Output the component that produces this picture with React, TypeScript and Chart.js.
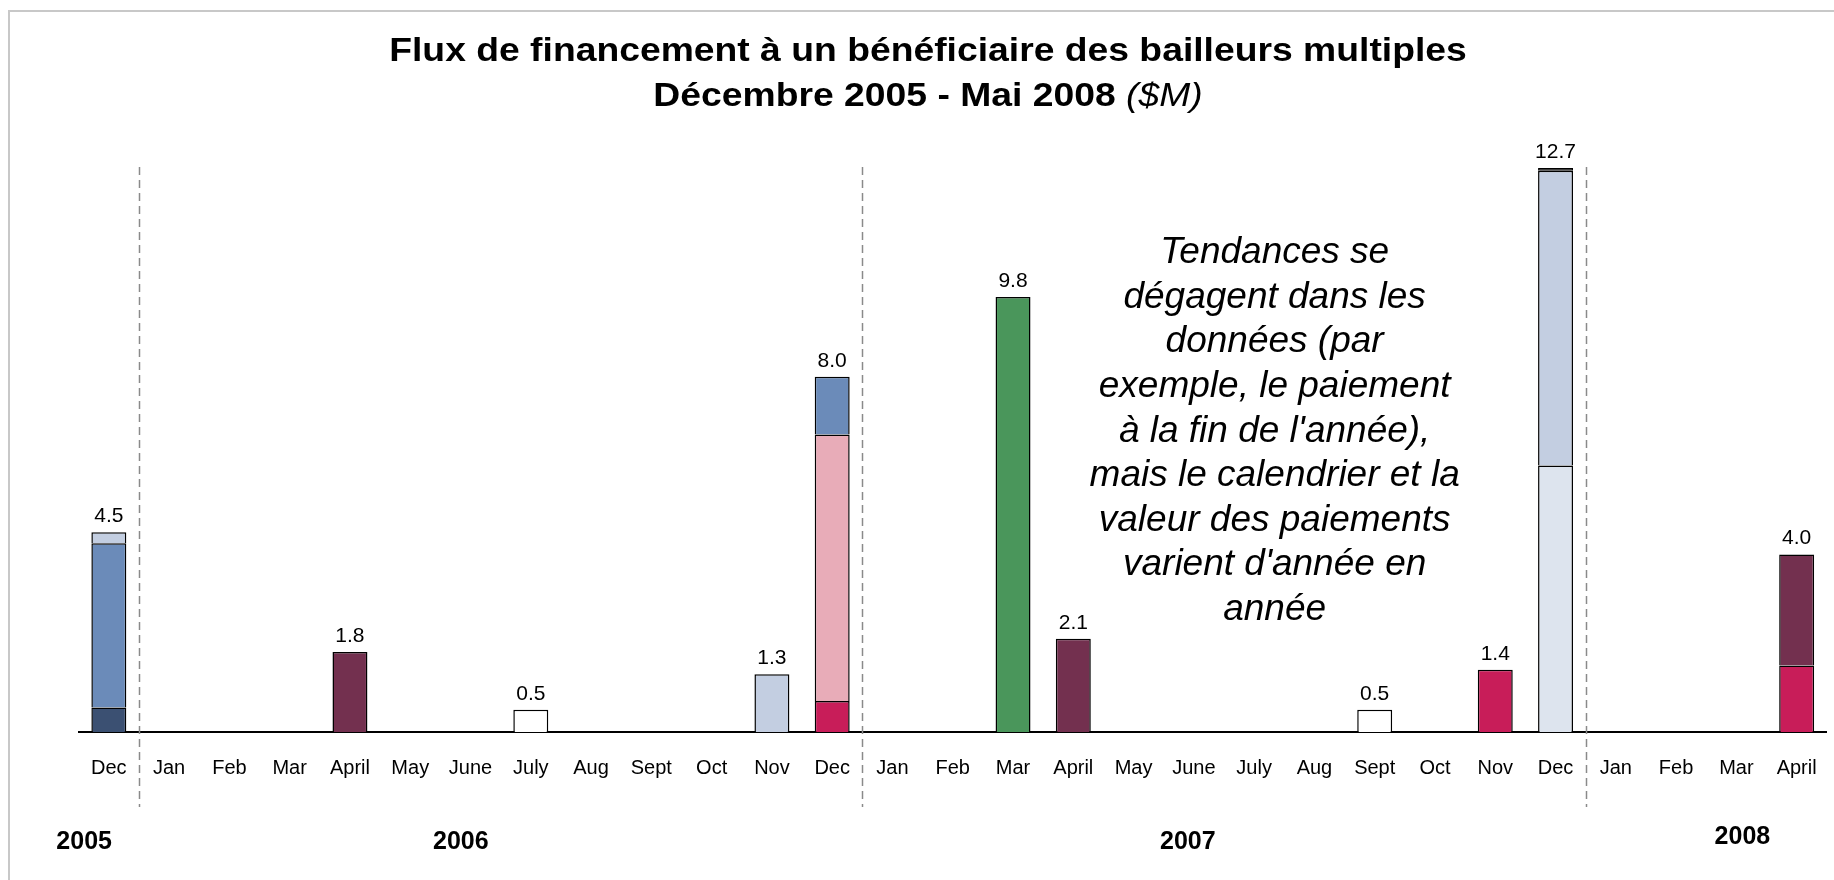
import React, { useEffect, useRef } from "react";
import { Chart, registerables } from "chart.js";
Chart.register(...registerables);

const FONT = "'Liberation Sans', Arial, sans-serif";
const _ = null;

const monthLabels = [
  "Dec",
  "Jan", "Feb", "Mar", "April", "May", "June", "July", "Aug", "Sept", "Oct", "Nov", "Dec",
  "Jan", "Feb", "Mar", "April", "May", "June", "July", "Aug", "Sept", "Oct", "Nov", "Dec",
  "Jan", "Feb", "Mar", "April",
];

//                      D05  J  F  M  A   M  J  Jl A  S  O  N    D06  J  F  M    A    M  J  Jl A  S    O  N    D07   J  F  M  A08
const navy      = [0.55, _, _, _, _,   _, _, _,  _, _, _, _,   _,   _, _, _,   _,   _, _, _, _, _,   _, _,   _,    _, _, _, _];
const crimson   = [_,    _, _, _, _,   _, _, _,  _, _, _, _,   0.7, _, _, _,   _,   _, _, _, _, _,   _, 1.4, _,    _, _, _, 1.5];
const palest    = [_,    _, _, _, _,   _, _, _,  _, _, _, _,   _,   _, _, _,   _,   _, _, _, _, _,   _, _,   6.0,  _, _, _, _];
const pink      = [_,    _, _, _, _,   _, _, _,  _, _, _, _,   6.0, _, _, _,   _,   _, _, _, _, _,   _, _,   _,    _, _, _, _];
const blue      = [3.7,  _, _, _, _,   _, _, _,  _, _, _, _,   1.3, _, _, _,   _,   _, _, _, _, _,   _, _,   _,    _, _, _, _];
const lightBlue = [0.25, _, _, _, _,   _, _, _,  _, _, _, 1.3, _,   _, _, _,   _,   _, _, _, _, _,   _, _,   6.64, _, _, _, _];
const maroon    = [_,    _, _, _, 1.8, _, _, _,  _, _, _, _,   _,   _, _, _,   2.1, _, _, _, _, _,   _, _,   _,    _, _, _, 2.5];
const green     = [_,    _, _, _, _,   _, _, _,  _, _, _, _,   _,   _, _, 9.8, _,   _, _, _, _, _,   _, _,   _,    _, _, _, _];
const white     = [_,    _, _, _, _,   _, _, 0.5, _, _, _, _,  _,   _, _, _,   _,   _, _, _, _, 0.5, _, _,   _,    _, _, _, _];
const black     = [_,    _, _, _, _,   _, _, _,  _, _, _, _,   _,   _, _, _,   _,   _, _, _, _, _,   _, _,   0.06, _, _, _, _];

const yearLabels = ["2005", "2006", "2007", "2008"];
const titleLine1 = "Flux de financement à un bénéficiaire des bailleurs multiples";
const titleLine2Bold = "Décembre 2005 - Mai 2008";
const titleLine2Italic = " ($M)";
const noteLines = [
  "Tendances se",
  "dégagent dans les",
  "données (par",
  "exemple, le paiement",
  "à la fin de l'année),",
  "mais le calendrier et la",
  "valeur des paiements",
  "varient d'année en",
  "année",
];

const seriesList = [
  { data: navy, color: "#3b5072" },
  { data: crimson, color: "#c81d59" },
  { data: palest, color: "#dde4ee" },
  { data: pink, color: "#e8acb8" },
  { data: blue, color: "#6b8bb9" },
  { data: lightBlue, color: "#c3cee1" },
  { data: maroon, color: "#73304f" },
  { data: green, color: "#4a965b" },
  { data: white, color: "#ffffff" },
  { data: black, color: "#000000" },
];

// decoration positions (category index units / pixels)
const yearPos = [-0.41, 5.84, 17.9, 27.1];
const yearY = [842, 842, 842, 837];

const decorPlugin = {
  id: "decor",
  afterDraw(chart: any) {
    const ctx = chart.ctx as CanvasRenderingContext2D;
    const xs = chart.scales.x;
    const ys = chart.scales.y;
    ctx.save();

    // frame
    ctx.strokeStyle = "#c8c8c8";
    ctx.lineWidth = 2;
    ctx.beginPath();
    ctx.moveTo(9, 880);
    ctx.lineTo(9, 11);
    ctx.lineTo(1834, 11);
    ctx.stroke();

    // title (slightly wide lettering as in the original)
    const sx = 1.13;
    ctx.fillStyle = "#000";
    ctx.textBaseline = "middle";
    ctx.save();
    ctx.translate(928, 52);
    ctx.scale(sx, 1);
    ctx.textAlign = "center";
    ctx.font = `bold 33px ${FONT}`;
    ctx.fillText(titleLine1, 0, 0);
    ctx.restore();

    ctx.save();
    ctx.translate(928, 97);
    ctx.scale(sx, 1);
    ctx.font = `bold 33px ${FONT}`;
    const wb = ctx.measureText(titleLine2Bold).width;
    ctx.font = `italic 33px ${FONT}`;
    const wi = ctx.measureText(titleLine2Italic).width;
    const start = -(wb + wi) / 2;
    ctx.textAlign = "left";
    ctx.font = `bold 33px ${FONT}`;
    ctx.fillText(titleLine2Bold, start, 0);
    ctx.font = `italic 33px ${FONT}`;
    ctx.fillText(titleLine2Italic, start + wb, 0);
    ctx.restore();

    // year separators
    ctx.strokeStyle = "#8a8a8a";
    ctx.lineWidth = 1.5;
    ctx.setLineDash([8, 5]);
    [0.5, 12.5, 24.5].forEach((v) => {
      const x = Math.round(xs.getPixelForValue(v)) + 0.5;
      ctx.beginPath();
      ctx.moveTo(x, 167);
      ctx.lineTo(x, 807);
      ctx.stroke();
    });
    ctx.setLineDash([]);

    // year labels
    ctx.textAlign = "center";
    ctx.font = `bold 25px ${FONT}`;
    yearLabels.forEach((t, i) => {
      ctx.fillText(t, xs.getPixelForValue(yearPos[i]), yearY[i]);
    });

    // totals
    ctx.font = `21px ${FONT}`;
    ctx.textBaseline = "alphabetic";
    monthLabels.forEach((_m, i) => {
      let sum = 0;
      seriesList.forEach((s) => {
        const v = s.data[i];
        if (v != null) sum += v;
      });
      if (sum > 0) {
        ctx.fillText(sum.toFixed(1), xs.getPixelForValue(i), ys.getPixelForValue(sum) - 10);
      }
    });

    // note
    ctx.font = `italic 37px ${FONT}`;
    ctx.textBaseline = "middle";
    const nx = xs.getPixelForValue(19.34);
    noteLines.forEach((l, i) => {
      ctx.fillText(l, nx, 253 + i * 44.6);
    });

    ctx.restore();
  },
};

export default function App() {
  const ref = useRef<HTMLCanvasElement | null>(null);
  useEffect(() => {
    if (!ref.current) return;
    const chart = new Chart(ref.current, {
      type: "bar",
      data: {
        labels: monthLabels,
        datasets: seriesList.map((s) => ({
          data: s.data as any,
          backgroundColor: s.color,
          borderColor: "#000",
          borderWidth: 1.5,
          barPercentage: 0.58,
          categoryPercentage: 1,
        })),
      },
      options: {
        responsive: false,
        animation: false,
        devicePixelRatio: 1,
        layout: { padding: { left: 78.7, right: 7.2, top: 110.4, bottom: 100 } },
        plugins: { legend: { display: false }, tooltip: { enabled: false }, title: { display: false } },
        scales: {
          x: {
            stacked: true,
            grid: { display: false, drawTicks: true, tickLength: 24 },
            border: { display: true, color: "#000", width: 2 },
            ticks: { color: "#000", font: { family: FONT, size: 20 }, padding: 0, autoSkip: false, maxRotation: 0 },
          },
          y: { stacked: true, display: false, min: 0, max: 14 },
        },
      },
      plugins: [decorPlugin],
    });
    return () => chart.destroy();
  }, []);
  return (
    <div style={{ position: "absolute", left: 0, top: 0, width: 1834, height: 880, background: "#fff" }}>
      <canvas ref={ref} width={1834} height={880} style={{ display: "block" }} />
    </div>
  );
}
